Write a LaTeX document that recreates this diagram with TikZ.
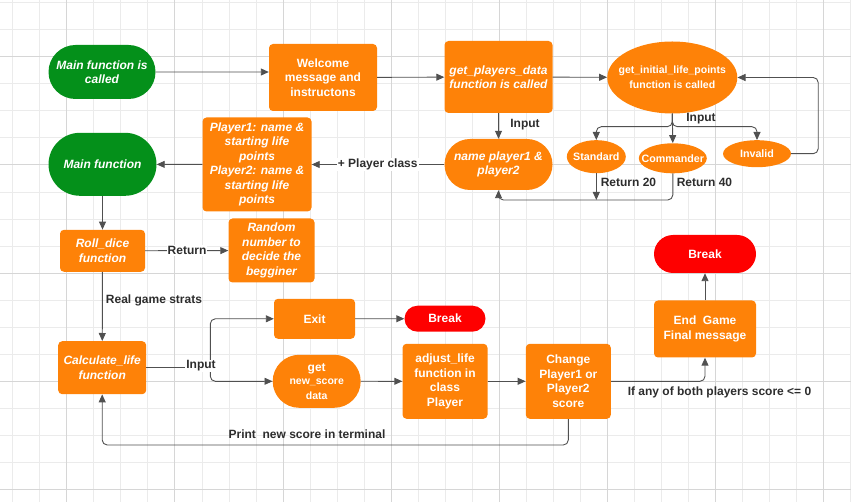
\documentclass[tikz,border=0pt]{standalone}
\usepackage{fontspec}
\setmainfont{Liberation Sans}
\usetikzlibrary{arrows.meta,shapes.geometric,shapes.misc}
\definecolor{dgreen}{RGB}{4,144,26}
\definecolor{dorange}{RGB}{254,130,8}
\definecolor{dred}{RGB}{254,0,0}
\definecolor{gminor}{RGB}{235,235,235}
\definecolor{gmajor}{RGB}{214,214,214}
\definecolor{lgrey}{RGB}{80,80,80}
\definecolor{tgrey}{RGB}{45,45,45}
\tikzset{
  blk/.style={inner sep=0pt,text=white,align=center,font=\bfseries\fontsize{12}{14.5}\selectfont},
  sz/.style 2 args={minimum width=#1pt,minimum height=#2pt},
  box/.style={blk,rectangle,rounded corners=4pt,fill=dorange},
  ibox/.style={box,font=\bfseries\itshape\fontsize{12}{14.5}\selectfont},
  pill/.style={blk,rounded rectangle,fill=dorange},
  ipill/.style={pill,font=\bfseries\itshape\fontsize{12}{14.5}\selectfont},
  oval/.style={blk,ellipse,inner xsep=-8pt,fill=dorange,font=\bfseries\fontsize{10.7}{15.5}\selectfont},
  link/.style={draw=lgrey,line width=0.9pt,-{Triangle[length=8pt,width=7pt]}},
  lbl/.style={text=tgrey,font=\bfseries\fontsize{12}{14}\selectfont,inner sep=1pt},
}

\begin{document}
\begin{tikzpicture}[x=1pt,y=-1pt]
\useasboundingbox (0,0) rectangle (851,502);
\foreach \i in {0,...,31} {
    \draw[gminor,line width=0.8pt] ({12.7+27.03*\i},0) -- ({12.7+27.03*\i},502);
}
\foreach \j in {0,...,18} {
    \draw[gminor,line width=0.8pt] (0,{2.7+27.03*\j}) -- (851,{2.7+27.03*\j});
}
\foreach \i in {2,6,...,30} {
    \draw[gmajor,line width=0.8pt] ({12.7+27.03*\i},0) -- ({12.7+27.03*\i},502);
}
\foreach \j in {2,6,...,18} {
    \draw[gmajor,line width=0.8pt] (0,{2.7+27.03*\j}) -- (851,{2.7+27.03*\j});
}
% top row
\node[ipill,fill=dgreen,sz={107}{54}] (main) at (102,72) {Main function is\\called};
\node[box,sz={108}{67}] (welcome) at (323,77.5) {Welcome\\message and\\instructons};
\node[ibox,sz={108}{72}] (getplayers) at (498.5,77) {get\_players\_data\\function is called};
\node[oval,sz={130}{72},font=\bfseries\fontsize{10.5}{15.5}\selectfont] (getlife) at (672.3,77.5) {get\_initial\_life\_points\\function is called};
% second row
\node[ipill,fill=dgreen,sz={108}{63}] (mainfn) at (102.5,164.3) {Main function};
\node[ibox,sz={109}{94}] (players) at (257,164.5) {Player1: name \&\\starting life\\points\\Player2: name \&\\starting life\\points};
\node[ipill,sz={108}{51}] (nameplayers) at (498.5,164.5) {name player1 \&\\player2};
\node[oval,sz={59}{33}] (standard) at (596.3,156.7) {Standard};
\node[oval,sz={68}{30}] (commander) at (672.8,158.3) {Commander};
\node[oval,sz={68}{27}] (invalid) at (757,153.7) {Invalid};
% game part
\node[ibox,sz={85}{42}] (rolldice) at (102.5,250.8) {Roll\_dice\\function};
\node[ibox,sz={86}{64}] (random) at (271.5,250.5) {Random\\number to\\decide the\\begginer};
\node[ibox,sz={88}{53}] (calc) at (102.2,367.7) {Calculate\_life\\function};
\node[box,sz={81}{40}] (exit) at (314.5,318.8) {Exit};
\node[pill,fill=dred,sz={81}{26}] (breaka) at (445,318.7) {Break};
\node[pill,sz={88}{53}] (getscore) at (316.7,381.3) {get\\[-1pt]{\fontsize{10.5}{13}\selectfont new\_score}\\{\fontsize{10.5}{13}\selectfont data}};
\node[box,sz={85}{75}] (adjust) at (445,381.3) {adjust\_life\\function in\\class\\Player};
\node[box,sz={85}{75}] (change) at (568.3,381.3) {Change\\Player1 or\\Player2\\score};
\node[box,sz={102}{57}] (endgame) at (705,329) {End\ \ Game\\Final message};
\node[pill,fill=dred,sz={102}{38}] (breakb) at (705,254) {Break};
% connectors
\coordinate (split) at (672.3,126.7);
\coordinate (retline) at (0,200);
\coordinate (fork) at (210.3,367.7);
\coordinate (printline) at (0,445);
\draw[link] (main) -- (main -| welcome.west);
\draw[link] (welcome) -- (getplayers);
\draw[link] (getplayers) -- (getlife);
\draw[link] (getplayers) -- (nameplayers);
\draw[link,rounded corners=5pt] (getlife.south) |- (standard.north |- split) -- (standard.north);
\draw[link] (getlife.south) -- (commander.north);
\draw[link,rounded corners=5pt] (getlife.south) |- (invalid.north |- split) -- (invalid.north);
\draw[link,rounded corners=5pt] (invalid.east) -- ++(27,0) |- (getlife.east);
\draw[link] (standard.south) -- (standard.south |- retline);
\draw[link,rounded corners=5pt] (commander.south) |- (nameplayers.south |- retline) -- (nameplayers.south);
\draw[link] (nameplayers) -- (players);
\draw[link] (players) -- (mainfn);
\draw[link] (mainfn) -- (rolldice);
\draw[link] (rolldice) -- (random);
\draw[link] (rolldice) -- (calc);
\draw[draw=lgrey,line width=0.9pt] (calc) -- (fork);
\draw[link,rounded corners=5pt] (fork) |- (exit);
\draw[link,rounded corners=5pt] (fork) |- (getscore);
\draw[link] (exit) -- (breaka);
\draw[link] (getscore) -- (adjust);
\draw[link] (adjust) -- (change);
\draw[link,rounded corners=5pt] (change.east) -| (endgame.south);
\draw[link] (endgame) -- (breakb);
\draw[link,rounded corners=5pt] (change.south) |- (calc.south |- printline) -- (calc.south);
% labels
\node[lbl] (inputa) at (525,124.3) {Input};
\node[lbl] (inputb) at (701,118.3) {Input};
\node[lbl] (ret20) at (628.5,182.3) {Return 20};
\node[lbl] (ret40) at (704.5,182.3) {Return 40};
\node[lbl,fill=white] (plclass) at (377.7,164.3) {+ Player class};
\node[lbl,fill=white] (retlbl) at (187,250.5) {Return};
\node[lbl] (strats) at (154,300.7) {Real game strats};
\node[lbl,fill=white] (inputc) at (201,366) {Input};
\node[lbl] (printlbl) at (307,434) {Print\ \ new score in terminal};
\node[lbl] (iflbl) at (719.5,392.3) {If any of both players score <= 0};
\end{tikzpicture}
\end{document}
